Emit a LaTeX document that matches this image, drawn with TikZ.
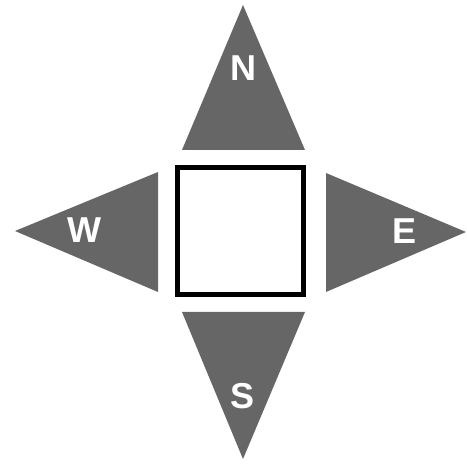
\documentclass[tikz,border=0pt]{standalone}
\usepackage{fontspec}
\setmainfont{Liberation Sans}
\begin{document}
\begin{tikzpicture}[x=1pt,y=-1pt,
  arrowtri/.style={fill=black!60, draw=none},
  dirlabel/.style={text=white, font=\bfseries\fontsize{36}{36}\selectfont, inner sep=0pt},
  centerbox/.style={draw=black, line width=5pt, fill=white}]
\useasboundingbox (0,0) rectangle (467,465);
\fill[arrowtri] (243,5) -- (305,150) -- (182,150) -- cycle;
\fill[arrowtri] (243,459) -- (305,312) -- (182,312) -- cycle;
\fill[arrowtri] (15,231) -- (158,172) -- (158,292) -- cycle;
\fill[arrowtri] (466,232) -- (326,173) -- (326,292) -- cycle;
\draw[centerbox] (177.5,167.5) rectangle (303.5,294.5);
\node[dirlabel] (N) at (243,68) {N};
\node[dirlabel] (S) at (243,396) {S};
\node[dirlabel] (W) at (84,230) {W};
\node[dirlabel] (E) at (405,231) {E};
\end{tikzpicture}
\end{document}
